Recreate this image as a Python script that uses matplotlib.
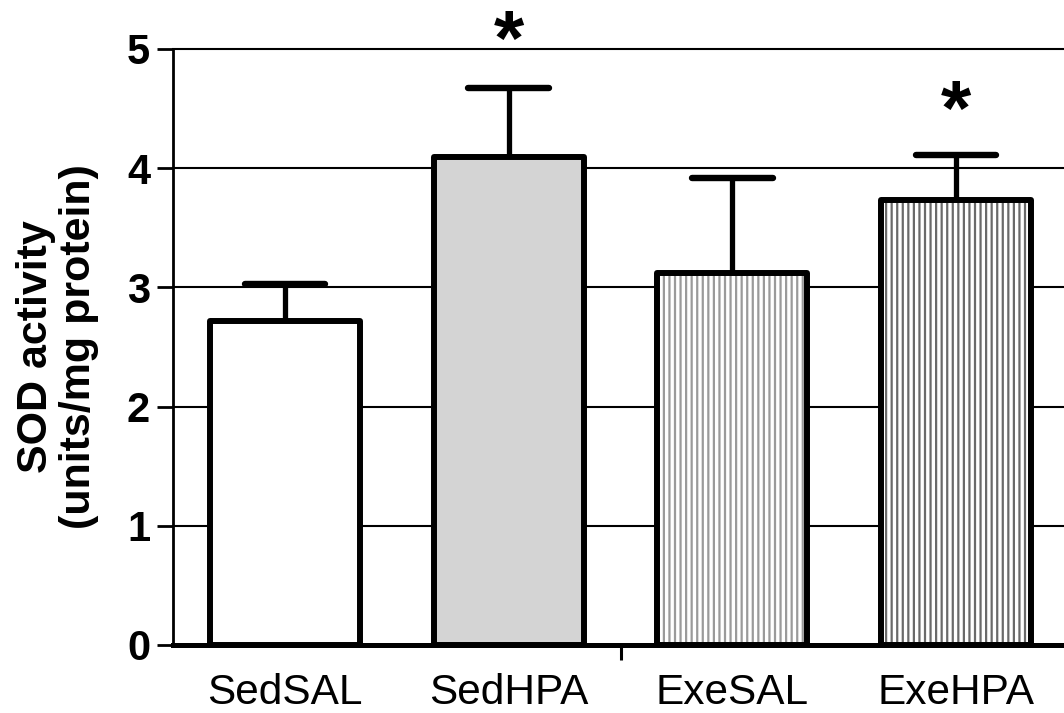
import matplotlib
matplotlib.use("Agg")
import matplotlib.pyplot as plt
import numpy as np

plt.rcParams['font.family'] = ['Liberation Sans', 'DejaVu Sans']

categories = ["SedSAL", "SedHPA", "ExeSAL", "ExeHPA"]
means = [2.72, 4.09, 3.12, 3.73]
errors = [0.31, 0.58, 0.80, 0.38]
significant = [False, True, False, True]
star_y = [None, 5.04, None, 4.45]
yticks = [0, 1, 2, 3, 4, 5]

fill_colors = ["white", "#d4d4d4", "white", "white"]
hatches = [None, None, "|||", "|||"]
hatch_colors = [None, None, "#9a9a9a", "#6a6a6a"]

W, H = 1064, 713
fig = plt.figure(figsize=(W / 100, H / 100), dpi=100)
ax = fig.add_axes([173 / W, (713 - 645) / H, (1068 - 173) / W, (645 - 49) / H])
ax.set_xlim(-0.5, 3.5)
ax.set_ylim(0, 5)

x = np.arange(len(categories))
bw = 0.67

for yy in yticks[1:]:
    ax.axhline(yy, color="black", lw=1.5, zorder=1, clip_on=False)

for i in range(len(categories)):
    if hatches[i]:
        plt.rcParams['hatch.linewidth'] = 1.6
        ax.bar(x[i], means[i], bw, color=fill_colors[i], edgecolor=hatch_colors[i],
               hatch=hatches[i], lw=0, zorder=2)
    else:
        ax.bar(x[i], means[i], bw, color=fill_colors[i], lw=0, zorder=2)
    b = ax.bar(x[i], means[i], bw, facecolor="none", edgecolor="black", lw=4.3, zorder=3)
    for p in b:
        p.set_joinstyle("round")

# error bars (upper only)
cap_half = 0.18
for i in range(len(categories)):
    ax.vlines(x[i], means[i], means[i] + errors[i], color="black", lw=3.8, zorder=2.5)
    ax.hlines(means[i] + errors[i], x[i] - cap_half, x[i] + cap_half, color="black",
              lw=4.6, capstyle="round", zorder=4)
    if significant[i]:
        ax.text(x[i], star_y[i], "*", ha="center", va="center", fontsize=56,
                fontweight="bold", clip_on=False)

for s in ["top", "right"]:
    ax.spines[s].set_visible(False)
ax.spines["left"].set_linewidth(2.0)
ax.spines["bottom"].set_linewidth(3.6)
ax.spines["bottom"].set_zorder(5)

ax.set_yticks(yticks)
ax.set_yticklabels([str(t) for t in yticks], fontsize=30, fontweight="bold")
ax.tick_params(axis="y", length=11.5, width=2.0, pad=5)
ax.set_xticks(x)
ax.set_xticklabels(categories, fontsize=30.5)
ax.tick_params(axis="x", length=0, pad=20)
ax.set_xticks([1.5], minor=True)
ax.tick_params(axis="x", which="minor", length=11, width=2.2)

ax.set_ylabel("SOD activity\n(units/mg protein)", fontsize=31, fontweight="bold",
              linespacing=1.1, labelpad=20)

fig.savefig("out.png", dpi=100)
